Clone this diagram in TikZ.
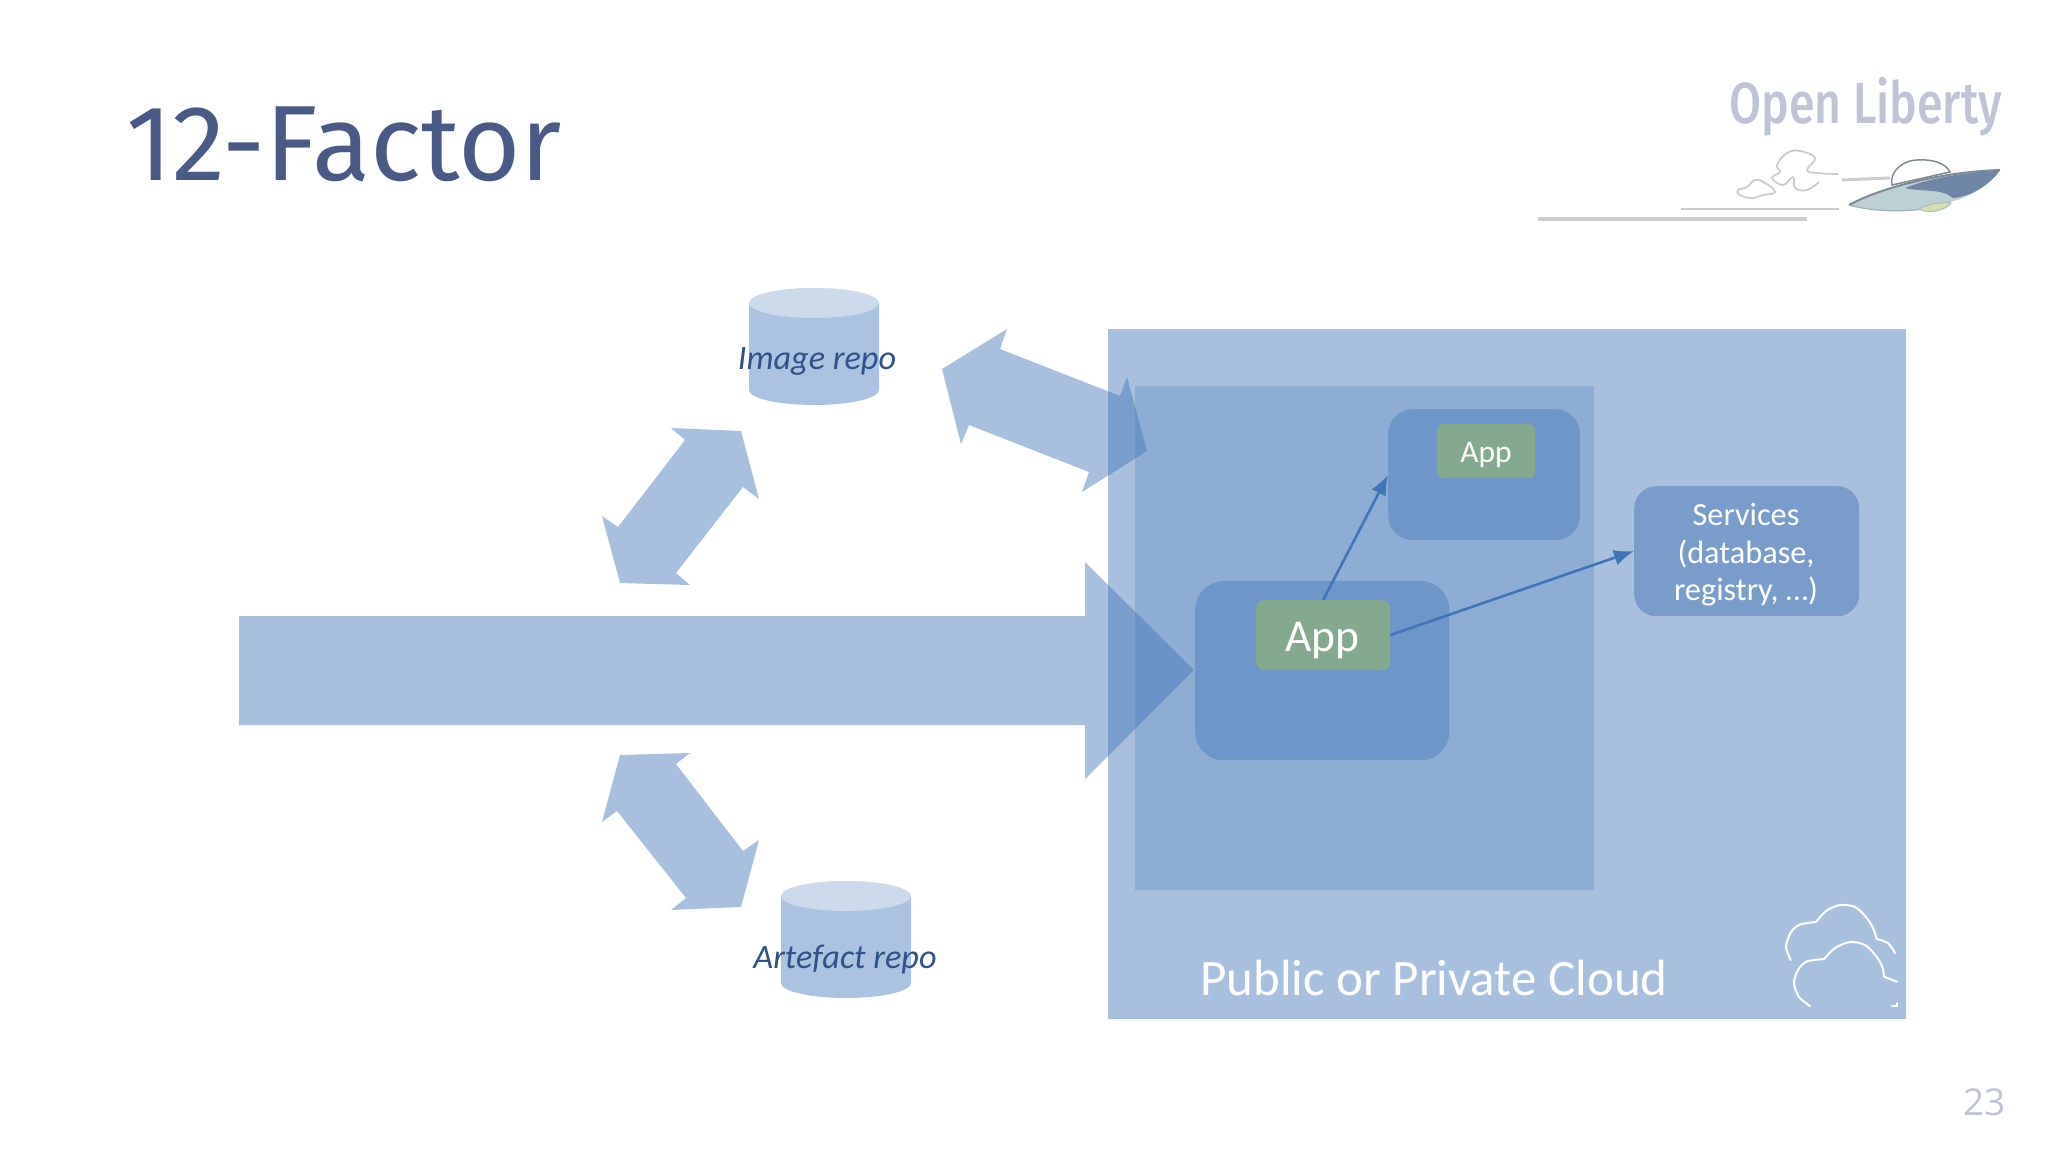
\documentclass[tikz,border=0pt]{standalone}
\usepackage{fontspec}
\setmainfont{Carlito}
\newfontfamily\titlefont{Fira Sans}
\newfontfamily\pagefont{Open Sans}
\newfontfamily\logofont[UprightFont=*-Medium]{Fira Sans}
\definecolor{basecol}{HTML}{4276B9}
\definecolor{titlecol}{HTML}{4A5A85}
\definecolor{pagecol}{HTML}{BFC3D6}
\definecolor{repotext}{HTML}{2F5288}
\definecolor{appgreen}{HTML}{84A98E}
\definecolor{appblue}{HTML}{6E96C9}
\definecolor{svcblue}{HTML}{7A9CCB}
\definecolor{linkblue}{HTML}{4274B8}
\definecolor{ufo}{HTML}{6F86A6}
\definecolor{ufolight}{HTML}{BDD0D4}
\definecolor{ufoline}{HTML}{7E8A96}
\definecolor{ufogear}{HTML}{D6DDB0}
\definecolor{logoline}{HTML}{CBCCD1}
\usetikzlibrary{arrows.meta}
\tikzset{
  x=1pt,y=-1pt,
  fatarrow/.style={fill=basecol,fill opacity=0.46,draw=none},
  rbox/.style={rectangle,draw=none,inner sep=0pt,anchor=north west},
  boxtext/.style={inner sep=0pt,text=white,align=center},
  link/.style={draw=linkblue,line width=2.6pt,-{Latex[length=20pt,width=16pt]}},
  cloudline/.style={draw=white,line width=2pt,line cap=round},
  smoke/.style={draw=logoline,line width=1.8pt,line join=round},
  repolabel/.style={font=\itshape\fontsize{34.2}{34.2}\selectfont,text=repotext,inner sep=0pt}
}
\begin{document}
\begin{tikzpicture}
\useasboundingbox (0,0) rectangle (2048,1152);
\fill[white] (0,0) rectangle (2048,1152);
% title and page number
\node[inner sep=0pt,anchor=base west,text=titlecol,font=\titlefont\fontsize{107}{107}\selectfont] (title) at (126,180) {12-Factor};
\node[inner sep=0pt,anchor=base east,text=pagecol,font=\pagefont\fontsize{37}{37}\selectfont] (page) at (2006,1115) {23};
% logo
\node[inner sep=0pt,anchor=base east,text=pagecol,font=\logofont\fontsize{58}{58}\selectfont,xscale=0.8] (logo) at (2002,123) {Open Liberty};
\draw[logoline,line width=3.5pt] (1538,219) -- (1807,219);
\draw[logoline,line width=2.5pt] (1681,209) -- (1839,209);
\draw[logoline,line width=3pt] (1842,180) -- (1890,178);
\draw[smoke] plot[smooth cycle,tension=0.8] coordinates {(1738,190) (1747,187) (1755,180) (1765,183) (1775,192) (1763,195) (1752,198) (1740,195)};
\draw[smoke] plot[smooth,tension=0.7] coordinates {(1838,174) (1817,173) (1807,170) (1815,158) (1800,151) (1787,153) (1777,165) (1780,172) (1772,178) (1783,185) (1793,177) (1795,188) (1807,190) (1819,182)};
% ufo
\fill[white,draw=ufoline,line width=1.5pt] (1892,185) .. controls (1889,170) and (1905,160) .. (1917,160) .. controls (1930,159) and (1945,162) .. (1950,172) -- cycle;
\fill[ufolight] (1849,205) .. controls (1880,188) and (1940,172) .. (2000,170) .. controls (1990,185) and (1970,197) .. (1950,202) .. controls (1930,212) and (1880,214) .. (1849,205) -- cycle;
\fill[ufo] (1905,188) .. controls (1935,176) and (1975,172) .. (2000,170) .. controls (1990,185) and (1970,197) .. (1953,198) .. controls (1942,188) and (1920,192) .. (1905,188) -- cycle;
\draw[ufoline,line width=2pt] (1849,205) .. controls (1880,188) and (1940,172) .. (2000,170);
\draw[ufoline!70!white,line width=1.2pt] (1849,205) .. controls (1880,214) and (1930,212) .. (1950,202);
\fill[ufogear,draw=ufolight!70!ufoline,line width=1pt] (1919,209) .. controls (1928,203) and (1945,202) .. (1951,203) .. controls (1945,211) and (1928,214) .. (1919,209) -- cycle;
% cloud panel
\fill[fill=basecol,fill opacity=0.46] (1108,329) rectangle (1906,1019);
\fill[fill=basecol,fill opacity=0.25] (1135,386) rectangle (1594,890);
% cloud icon
\draw[cloudline] plot[smooth] coordinates {(1790.7,960) (1786,946.7) (1791,932) (1800,924.5) (1816,922)};
\draw[cloudline] plot[smooth] coordinates {(1816,922) (1826,911) (1840,905) (1855,907) (1866,917) (1873,928) (1876.7,939)};
\draw[cloudline] plot[smooth] coordinates {(1876.7,939) (1888,943) (1895,953)};
\draw[cloudline] plot[smooth] coordinates {(1810,1006) (1799,997) (1794,983) (1798,970) (1806.7,961.5) (1824,959)};
\draw[cloudline] plot[smooth] coordinates {(1824,959) (1835,948) (1850,942) (1865,945) (1876,956) (1882,966) (1884,976.7)};
\draw[cloudline] (1884,976.7) -- (1897,981.7);
\draw[cloudline] (1892,1006) -- (1897,1006) -- (1897,1003);
% cylinders
\path[fill=basecol,fill opacity=0.44] (749,303) -- (749,390) arc[start angle=180,end angle=360,x radius=65,y radius=-15] -- (879,303) arc[start angle=0,end angle=180,x radius=65,y radius=-15] -- cycle;
\fill[white,fill opacity=0.4] (814,303) ellipse[x radius=65,y radius=15];
\path[fill=basecol,fill opacity=0.44] (781,896) -- (781,983) arc[start angle=180,end angle=360,x radius=65,y radius=-15] -- (911,896) arc[start angle=0,end angle=180,x radius=65,y radius=-15] -- cycle;
\fill[white,fill opacity=0.4] (846,896) ellipse[x radius=65,y radius=15];
\node[repolabel] (imagerepo) at (817,361) {Image repo};
\node[repolabel] (artefactrepo) at (845,959.5) {Artefact repo};
% fat arrows
\fill[fatarrow] (671,428) -- (741,431) -- (759,499) -- (743,487) -- (676,573) -- (690,585) -- (620,583) -- (602,516) -- (618,527) -- (685,440) -- cycle;
\fill[fatarrow] (1007,329) -- (1000,349) -- (1120,396) -- (1127,377) -- (1147,451) -- (1082,492) -- (1089,472) -- (969,425) -- (961,444) -- (942,369) -- cycle;
\fill[fatarrow] (620,755) -- (690,753) -- (676,764) -- (743,851) -- (759,840) -- (741,907) -- (671,910) -- (686,898) -- (617,811) -- (602,822) -- cycle;
\fill[fatarrow] (239,616) -- (1085,616) -- (1085,562) -- (1194,670) -- (1085,779) -- (1085,725) -- (239,725) -- cycle;
% app boxes
\node[rbox,fill=appblue,rounded corners=28pt,minimum width=254pt,minimum height=179pt] (appouter) at (1195,581) {};
\node[rbox,fill=appblue,rounded corners=25pt,minimum width=192pt,minimum height=131pt] (appother) at (1388,409) {};
\node[rbox,fill=svcblue,rounded corners=22pt,minimum width=225pt,minimum height=130pt] (services) at (1634,486) {};
\node[boxtext,font=\fontsize{32.3}{37.5}\selectfont] (servicestext) at (1746,555) {Services\\(database,\\registry, …)};
\node[rbox,fill=appgreen,rounded corners=8pt,minimum width=134pt,minimum height=70pt] (appbig) at (1256,600) {};
\node[boxtext,font=\fontsize{45.6}{45.6}\selectfont] (appbigtext) at (1322.5,641) {App};
\node[rbox,fill=appgreen,rounded corners=6pt,minimum width=98pt,minimum height=54pt] (appsmall) at (1437,424) {};
\node[boxtext,font=\fontsize{31.5}{31.5}\selectfont] (appsmalltext) at (1486,455) {App};
\coordinate (a1) at (appother.west |- 0,475);
\draw[link] (appbig.north) -- (a1);
\coordinate (s1) at (services.west |- 0,551);
\coordinate (a2) at (appbig.east |- 0,635);
\draw[link] (a2) -- (s1);
% cloud label
\node[inner sep=0pt,anchor=base west,text=white,font=\fontsize{51}{51}\selectfont] (cloudlabel) at (1200,995) {Public or Private Cloud};
\end{tikzpicture}
\end{document}
